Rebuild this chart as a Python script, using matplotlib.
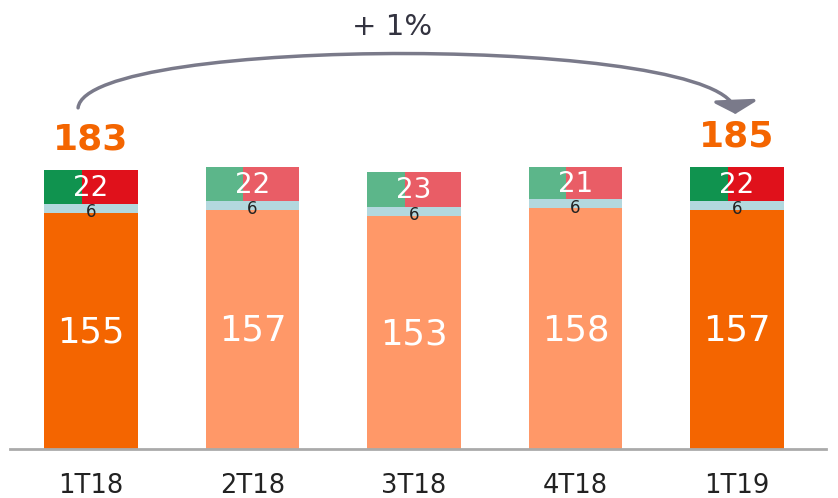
import matplotlib
matplotlib.use("Agg")
import matplotlib.pyplot as plt
from matplotlib.patches import FancyArrowPatch
from matplotlib.path import Path
import numpy as np

categories = ["1T18", "2T18", "3T18", "4T18", "1T19"]
base_vals = [155, 157, 153, 158, 157]
mid_vals = [6, 6, 6, 6, 6]
top_vals = [22, 22, 23, 21, 22]
highlight = [True, False, False, False, True]
growth_label = "+ 1%"

W, H = 838, 498
fig = plt.figure(figsize=(W / 100, H / 100), dpi=100)
ax = fig.add_axes([0, (H - 449) / H, 1, 449 / H])
ax.set_xlim(-91 / 161.5, (W - 91) / 161.5)
ax.set_ylim(0, 449 / 1.523)
for s in ax.spines.values():
    s.set_visible(False)
ax.set_yticks([])

x = np.arange(len(categories))
bw = 0.576
gfrac = 0.40

c_base = ["#F46500" if h else "#FF9868" for h in highlight]
c_green = ["#10934F" if h else "#5CB68A" for h in highlight]
c_red = ["#E0111B" if h else "#E95D66" for h in highlight]
c_mid = "#B3D8DE"

base = np.array(base_vals)
mid = np.array(mid_vals)
top = np.array(top_vals)
totals = base + mid + top

ax.bar(x, base, bw, color=c_base, zorder=2)
ax.bar(x, mid, bw, bottom=base, color=c_mid, zorder=2)
ax.bar(x - bw / 2, top, bw * gfrac, bottom=base + mid, align="edge", color=c_green, zorder=2)
ax.bar(x - bw / 2 + bw * gfrac, top, bw * (1 - gfrac), bottom=base + mid, align="edge", color=c_red, zorder=2)

for i in range(len(x)):
    ax.text(x[i], base[i] / 2 - 1, str(base[i]), color="white", fontsize=25.5,
            ha="center", va="center", zorder=3)
    ax.text(x[i], base[i] + mid[i] + top[i] / 2 - 0.5, str(top[i]), color="white", fontsize=20,
            ha="center", va="center", zorder=3)
    ax.text(x[i], base[i] + mid[i] / 2 - 2.5, str(mid[i]), color="#222222", fontsize=12,
            ha="center", va="center", zorder=3)
    if highlight[i]:
        ax.text(x[i], totals[i] + 20, str(totals[i]), color="#F46500", fontsize=26,
                fontweight="bold", ha="center", va="center", zorder=3)

# baseline
ax.plot([-0.5, 4.55], [0, 0], color="#AAAAAA", lw=2, zorder=4, clip_on=False)

ax.set_xticks(x)
ax.set_xticklabels(categories, fontsize=18.5, color="#222222")
ax.tick_params(axis="x", length=0, pad=17)

# growth arc
x0, x1 = x[0] - 0.08, x[-1] - 0.01
y0 = totals[0] + 41
y1 = totals[-1] + 35
yc = max(totals) + 87
verts = [(x0, y0), (x0 + 0.05, yc), (x1 - 0.02, yc), (x1, y1)]
path = Path(verts, [Path.MOVETO, Path.CURVE4, Path.CURVE4, Path.CURVE4])
arr = FancyArrowPatch(path=path, arrowstyle="-|>,head_length=0.45,head_width=0.8",
                      mutation_scale=17, color="#7A7A8A", lw=2.5, zorder=5,
                      shrinkA=0, shrinkB=0)
ax.add_patch(arr)
ax.text(1.865, 449 / 1.523 - 27 / 1.523, growth_label, fontsize=21,
        color="#333340", ha="center", va="center")

fig.savefig("out.png", dpi=100)
